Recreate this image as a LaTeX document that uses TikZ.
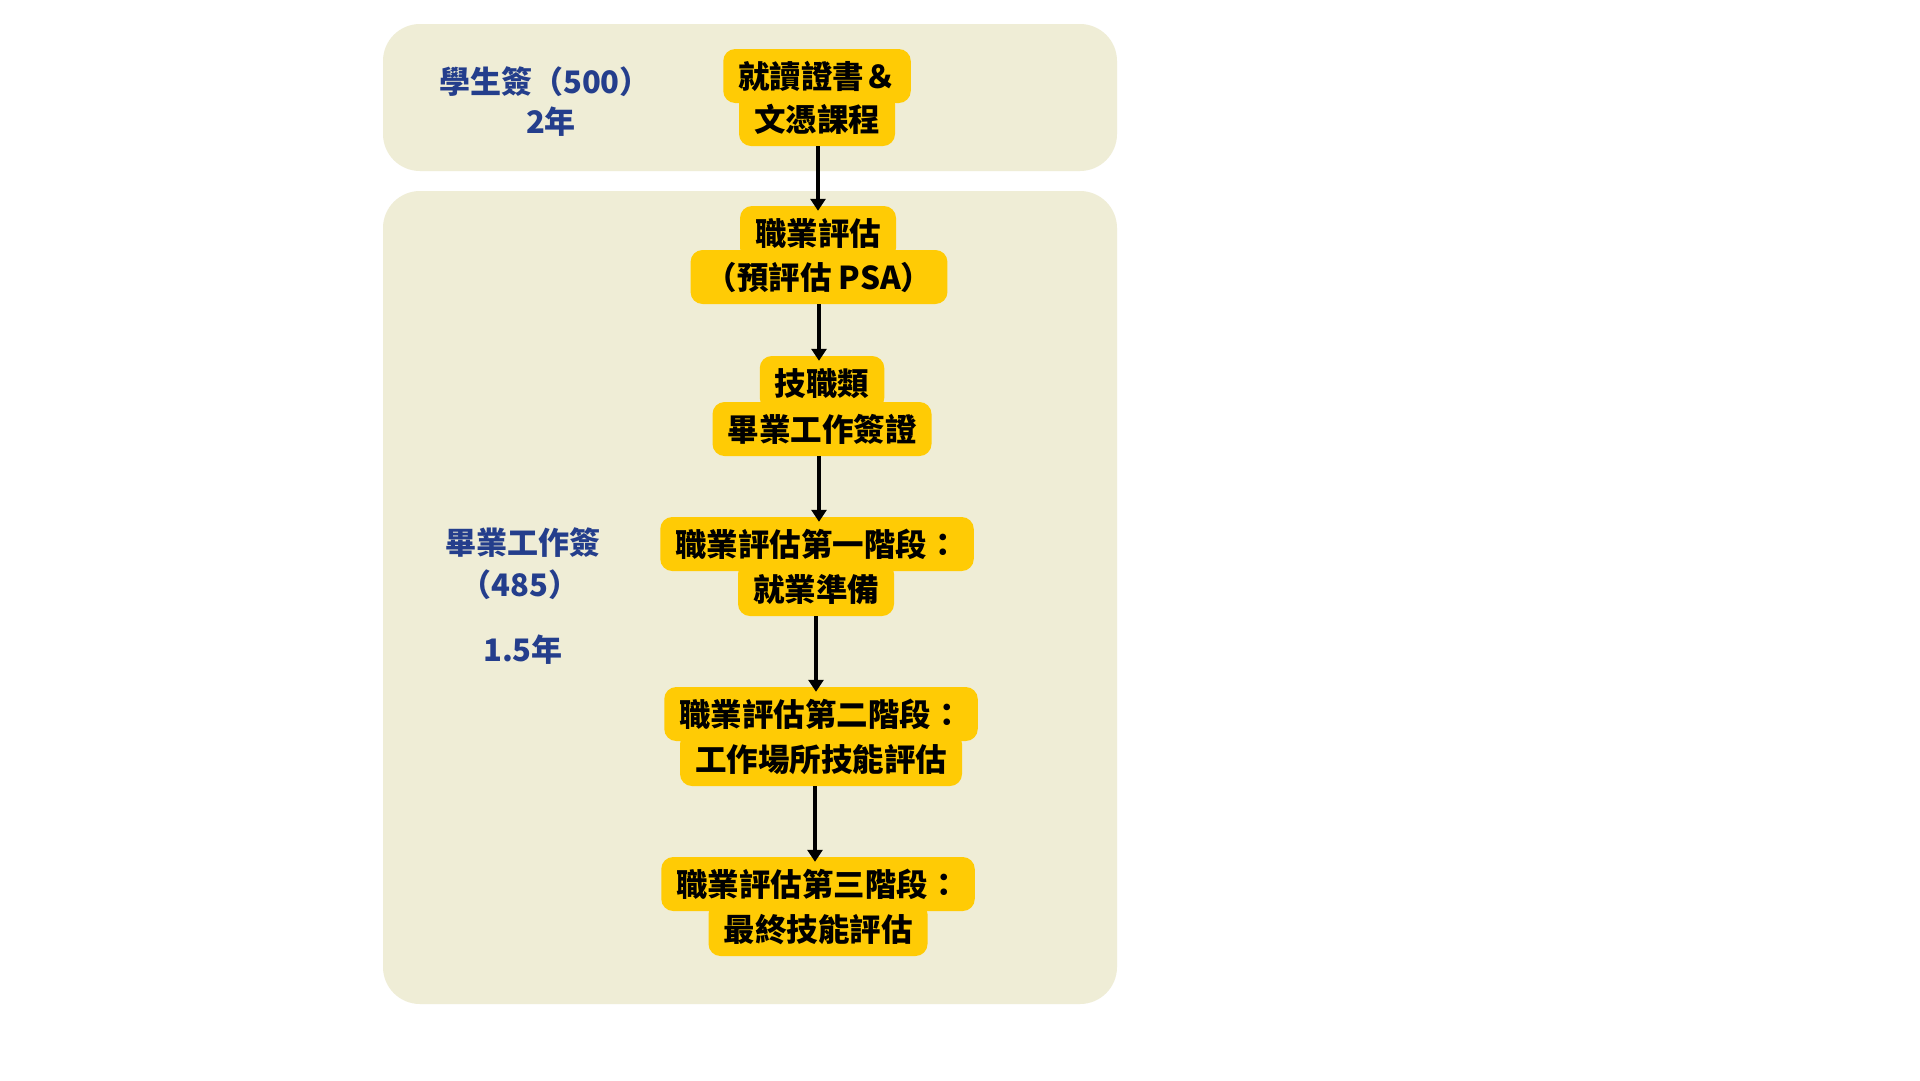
\documentclass[tikz,border=0pt]{standalone}
\usepackage{fontspec}
\newfontfamily\cjk{Noto Sans CJK TC}
\usetikzlibrary{arrows.meta}
\definecolor{panelc}{RGB}{239,237,214}
\definecolor{yel}{RGB}{255,203,5}
\definecolor{navy}{RGB}{36,62,140}
\tikzset{
  panel/.style={fill=panelc, rounded corners=37pt},
  ln/.style={fill=yel, rounded corners=12pt, inner xsep=15pt, inner ysep=0pt,
    minimum height=54pt, text height=28pt, text depth=4pt,
    font={\cjk\bfseries\fontsize{31.5pt}{37pt}\selectfont}},
  lbl/.style={text=navy, inner sep=0pt, text height=28pt, text depth=4pt,
    font={\cjk\bfseries\fontsize{31pt}{36pt}\selectfont}},
  arr/.style={line width=3.2pt, -{Triangle[length=12pt,width=15pt]}, shorten >=-5pt}
}
\begin{document}
\begin{tikzpicture}[x=1pt,y=-1pt]
\useasboundingbox (0,0) rectangle (1920,1080);
\fill[white] (0,0) rectangle (1920,1080);
\fill[panel] (383,24) rectangle (1117,171);
\fill[panel] (383,191) rectangle (1117,1004);

\node[lbl] (l1) at (545,81) {學生簽（500）};
\node[lbl] (l2) at (551,121) {2年};
\node[lbl] (l3) at (523,542) {畢業工作簽};
\node[lbl] (l4) at (520,584) {（485）};
\node[lbl] (l5) at (523,649) {1.5年};

\node[ln] (b1b) at (817,119) {文憑課程};
\node[ln] (b1a) at (817,76) {就讀證書＆};

\node[ln] (b2a) at (818,233) {職業評估};
\node[ln] (b2b) at (819,277) {（預評估 PSA）};

\node[ln] (b3a) at (822,383) {技職類};
\node[ln] (b3b) at (822,429) {畢業工作簽證};

\node[ln] (b4b) at (816,589) {就業準備};
\node[ln] (b4a) at (817,544) {職業評估第一階段：};

\node[ln] (b5b) at (821,759) {工作場所技能評估};
\node[ln] (b5a) at (821,714) {職業評估第二階段：};

\node[ln] (b6b) at (818,929) {最終技能評估};
\node[ln] (b6a) at (818,884) {職業評估第三階段：};

\draw[arr] ([xshift=1pt]b1b.south) -- ([xshift=1pt]b1b.south |- b2a.north);
\draw[arr] (b2b.south) -- (b2b.south |- b3a.north);
\draw[arr] ([xshift=-3pt]b3b.south) -- ([xshift=-3pt]b3b.south |- b4a.north);
\draw[arr] (b4b.south) -- (b4b.south |- b5a.north);
\draw[arr] ([xshift=-6pt]b5b.south) -- ([xshift=-6pt]b5b.south |- b6a.north);
\end{tikzpicture}
\end{document}
